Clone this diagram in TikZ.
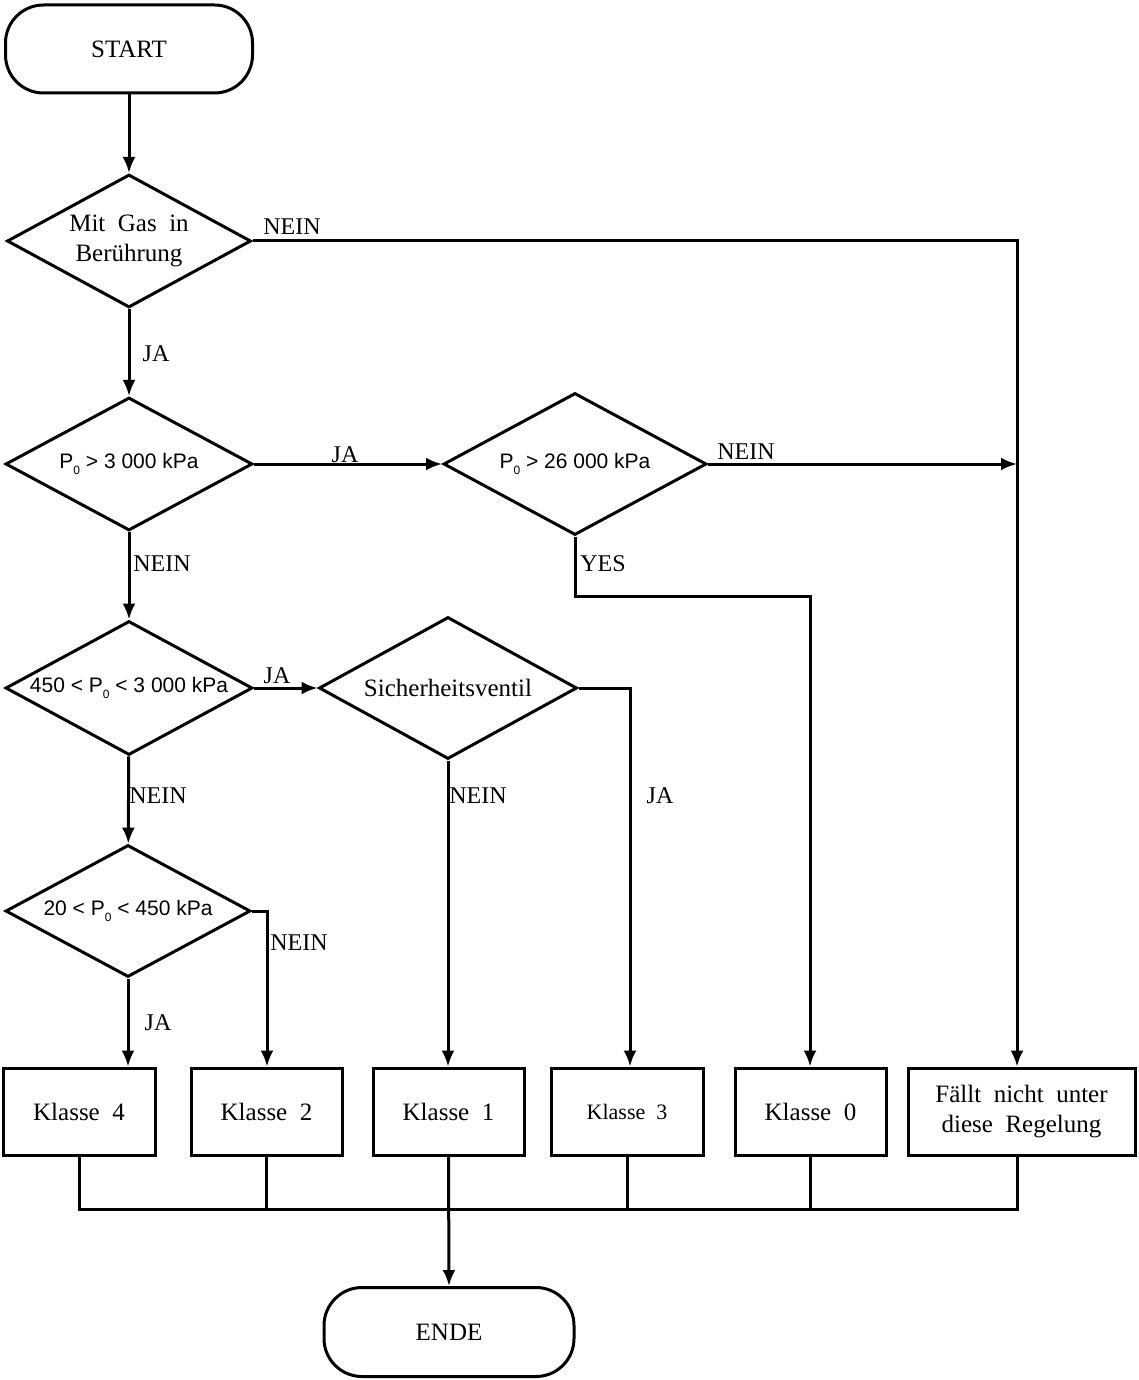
\documentclass[tikz,border=0pt]{standalone}
\usepackage{fontspec}
\setmainfont{Liberation Serif}
\newfontfamily\sansf{Liberation Sans}
\usetikzlibrary{shapes.geometric,arrows.meta}
\newcommand{\Pnull}{P\raisebox{-6pt}{\fontsize{12}{12}\selectfont 0}}
\tikzset{
  base/.style={draw, line width=3pt, inner sep=0pt, font=\fontsize{25}{30}\selectfont, align=center},
  term/.style={base, rectangle, rounded corners=38pt, minimum width=247pt, minimum height=88pt},
  dia/.style={base, diamond, aspect=1.85},
  sdia/.style={dia, font=\sansf\fontsize{21}{25}\selectfont},
  cls/.style={base, rectangle, minimum height=87pt, minimum width=151pt},
  lbl/.style={font=\fontsize{24}{28}\selectfont, inner sep=0pt},
  arr/.style={line width=3pt, -{Latex[length=16pt,width=13pt]}},
  ln/.style={line width=3pt}
}
\begin{document}
\begin{tikzpicture}[x=1pt,y=-1pt]
\useasboundingbox (0,0) rectangle (1138,1380);
% terminals
\node[term] (start) at (129,49) {START};
\node[term, minimum width=250pt, minimum height=89pt] (ende) at (449,1332) {ENDE};
% decisions
\node[dia, minimum width=244pt, minimum height=133pt] (d1) at (129,241) {Mit\ \ Gas\ \ in\\Berührung};
\node[sdia, minimum width=247pt, minimum height=133pt] (d2) at (129,464) {\Pnull{} > 3 000 kPa};
\node[sdia, minimum width=263pt, minimum height=142pt] (d3) at (575,464) {\Pnull{} > 26 000 kPa};
\node[sdia, minimum width=247pt, minimum height=134pt] (d4) at (129,688) {450 < \Pnull{} < 3 000 kPa};
\node[dia, minimum width=258pt, minimum height=142pt] (d5) at (448,688) {Sicherheitsventil};
\node[sdia, minimum width=245pt, minimum height=132pt] (d6) at (128,911) {20 < \Pnull{} < 450 kPa};
% classes
\node[cls, minimum width=152pt] (k4) at (79,1111.5) {Klasse\ \ 4};
\node[cls] (k2) at (266.5,1111.5) {Klasse\ \ 2};
\node[cls] (k1) at (448.5,1111.5) {Klasse\ \ 1};
\node[cls, minimum width=152pt, font=\fontsize{22}{26}\selectfont] (k3) at (627,1111.5) {Klasse\ \ 3};
\node[cls] (k0) at (810.5,1111.5) {Klasse\ \ 0};
\node[cls, minimum width=227pt] (kf) at (1021.5,1111.5) {Fällt\ \ nicht\ \ unter\\diese\ \ Regelung};
% helper coordinates
\coordinate (c1) at (1017,241);
\coordinate (c2) at (810,596);
\coordinate (c3) at (630,688);
\coordinate (c4) at (267,911);
\coordinate (bus) at (0,1209);
% connectors
\draw[arr] (start) -- (d1);
\draw[arr] (d1) -- (d2);
\draw[arr] (d1.east) -- (c1) -- (kf.north -| c1);
\draw[arr] (d2.east) -- (d3.west);
\draw[arr] (d3.east) -- (d3.east -| c1);
\draw[arr] (d3.south) |- (c2) -- (k0.north -| c2);
\draw[arr] (d2) -- (d4);
\draw[arr] (d4.east) -- (d5.west);
\draw[arr] (d5.east) -- (c3) -- (k3.north -| c3);
\draw[arr] (d5.south) -- (k1.north -| d5.south);
\draw[arr] (d4) -- (d6);
\draw[arr] (d6.east) -- (c4) -- (k2.north -| c4);
\draw[arr] (d6.south) -- (k4.north -| d6.south);
% collecting bus
\draw[ln] (k4.south) -- (k4.south |- bus) -- (bus -| c1) -- (kf.south -| c1);
\draw[ln] (k2.south) -- (k2.south |- bus);
\draw[ln] (k3.south) -- (k3.south |- bus);
\draw[ln] (k0.south) -- (k0.south |- bus);
\draw[arr] (k1.south) -- (ende.north);
% labels
\node[lbl] (l1) at (292,227) {NEIN};
\node[lbl] (l2) at (156,354) {JA};
\node[lbl] (l3) at (345,455) {JA};
\node[lbl] (l4) at (746,452) {NEIN};
\node[lbl] (l5) at (603,564) {YES};
\node[lbl] (l6) at (162,564) {NEIN};
\node[lbl] (l7) at (277,676) {JA};
\node[lbl] (l8) at (478,796) {NEIN};
\node[lbl] (l9) at (660,796) {JA};
\node[lbl] (l10) at (158,796) {NEIN};
\node[lbl] (l11) at (299,943) {NEIN};
\node[lbl] (l12) at (158,1023) {JA};
\end{tikzpicture}
\end{document}
